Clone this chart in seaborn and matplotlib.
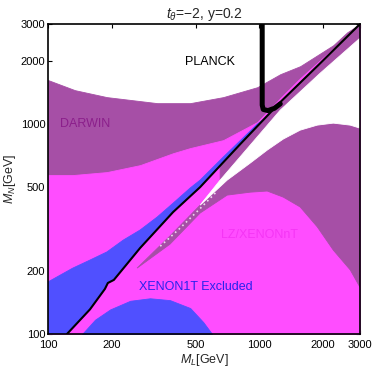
import numpy as np
import matplotlib
matplotlib.use('Agg')
import matplotlib.pyplot as plt
import seaborn as sns

# === DATA (GeV) ===
# coannihilation line (black diagonal)
line_x = np.array([123, 158, 186, 192, 205, 273, 391, 525, 653, 813, 1258, 1945, 3000])
line_y = np.array([100, 131, 164, 175, 181, 257, 381, 501, 634, 803, 1273, 1951, 3000])

# PLANCK relic density curve
planck_x = np.array([1033, 1033, 1045, 1100, 1180, 1258])
planck_y = np.array([3000, 1232, 1175, 1160, 1190, 1250])

# DARWIN upper edge (upper-left band)
darwin_x = np.array([100, 134, 190, 329, 471, 675, 979, 1258, 1563, 2243, 2614, 3000])
darwin_y = np.array([1622, 1452, 1345, 1259, 1259, 1345, 1500, 1730, 1889, 2378, 2742, 3000])

# LZ/XENONnT upper edge (upper-left band)
lz_x = np.array([100, 131, 190, 273, 391, 471, 675, 979, 1258, 1563, 1945, 2421, 2698, 3000])
lz_y = np.array([572, 572, 591, 638, 727, 769, 839, 1023, 1330, 1656, 2017, 2456, 2690, 3000])

# XENON1T upper edge (upper-left wedge) and bump at the bottom
x1t_x = np.array([100, 131, 158, 190, 227, 273, 329, 391, 471, 525, 675, 979, 1060])
x1t_y = np.array([177, 206, 225, 246, 280, 313, 361, 420, 496, 541, 696, 1000, 1062])
bump_x = np.array([145, 167, 197, 245, 304, 378, 471, 543, 598])
bump_y = np.array([100, 117, 131, 144, 148, 145, 133, 114, 100])

# lower-right DARWIN region (upper and lower edges)
lrp_up_x = np.array([264, 378, 525, 705, 906, 1091, 1300, 1563, 1883, 2243, 2698, 3000])
lrp_up_y = np.array([206, 293, 411, 541, 652, 752, 849, 936, 989, 1011, 989, 957])
lrp_lo_x = np.array([264, 378, 525, 705, 906, 1091, 1300, 1563, 1883, 2243, 2698, 3000])
lrp_lo_y = np.array([206, 268, 377, 459, 474, 480, 449, 403, 324, 251, 202, 167])

# white gap below the diagonal strip (upper edge)
gap_x = np.array([525, 653, 906, 1258, 1945, 3000])
gap_y = np.array([411, 541, 794, 1166, 1750, 2569])

# faint white dotted trace inside the thin DARWIN sliver
dots_x = np.array([340, 420, 525, 620])
dots_y = np.array([262, 318, 396, 470])

ticks = [100, 200, 500, 1000, 2000, 3000]
tick_labels = ['100', '200', '500', '1000', '2000', '3000']

# === STYLE ===
purple = '#a64fa6'
magenta = '#ff4dff'
blue = '#5050ff'

sns.set_style('ticks')
plt.rcParams['font.family'] = ['Liberation Sans', 'DejaVu Sans']
plt.rcParams['mathtext.fontset'] = 'custom'
plt.rcParams['mathtext.rm'] = 'Liberation Sans'
plt.rcParams['mathtext.it'] = 'Liberation Sans:italic'

fig = plt.figure(figsize=(3.74, 3.72), dpi=100)
ax = fig.add_axes([48 / 374, 1 - 334 / 372, 312 / 374, 310 / 372])
ax.set_xscale('log')
ax.set_yscale('log')

kw = dict(lw=0.6)
# DARWIN (everything under its edge), then LZ on top
ax.fill_between(darwin_x, 100, darwin_y, color=purple, **kw)
ax.fill_between(lz_x, 100, lz_y, color=magenta, **kw)

# lower-right DARWIN region
ax.fill(np.concatenate([lrp_up_x, lrp_lo_x[::-1]]),
        np.concatenate([lrp_up_y, lrp_lo_y[::-1]]), color=purple, **kw)

# purple strip just below the diagonal
m = line_x >= 653
g = gap_x >= 653
ax.fill(np.concatenate([line_x[m], gap_x[g][::-1]]),
        np.concatenate([line_y[m], gap_y[g][::-1]]), color=purple, **kw)

# white gap
u = lrp_up_x >= 525
ax.fill(np.concatenate([gap_x, lrp_up_x[u][::-1]]),
        np.concatenate([gap_y, lrp_up_y[u][::-1]]), color='white', **kw)
ax.plot(dots_x, dots_y, color='white', lw=1.2, ls=(0, (1, 2)), alpha=0.8)

# XENON1T excluded
b = line_x < 1060
ax.fill(np.concatenate([x1t_x, line_x[b][::-1], [100]]),
        np.concatenate([x1t_y, line_y[b][::-1], [100]]), color=blue, **kw)
ax.fill_between(bump_x, 100, bump_y, color=blue, **kw)

# lines
sns.lineplot(x=line_x, y=line_y, sort=False, estimator=None, color='black', lw=1.5, ax=ax)
sns.lineplot(x=planck_x, y=planck_y, sort=False, estimator=None, color='black', lw=3.6, ax=ax)

# labels
ax.text(586, 1973, 'PLANCK', ha='center', va='center', fontsize=9, color='black')
ax.text(114, 1000, 'DARWIN', ha='left', va='center', fontsize=9, color='#8b1f8b')
ax.text(1000, 296, 'LZ/XENONnT', ha='center', va='center', fontsize=9, color='#f535f5')
ax.text(503, 167, 'XENON1T Excluded', ha='center', va='center', fontsize=9, color='#2a22ee')

ax.set_xlim(100, 3000)
ax.set_ylim(100, 3000)
ax.set_xticks(ticks)
ax.set_xticklabels(tick_labels)
ax.set_yticks(ticks)
ax.set_yticklabels(tick_labels)
ax.minorticks_off()
ax.tick_params(direction='in', length=3, width=0.8, labelsize=8, pad=2,
               top=True, right=True, colors='black')
ax.tick_params(axis='x', pad=4)
for s in ax.spines.values():
    s.set_color('black')
    s.set_linewidth(1.2)

ax.set_xlabel('$M_L$[GeV]', fontsize=9, labelpad=2)
ax.set_ylabel('$M_N$[GeV]', fontsize=9, labelpad=2)
ax.set_title(r'$t_\theta$=−2, y=0.2', fontsize=10, pad=4)

fig.savefig('out.png', dpi=100)
